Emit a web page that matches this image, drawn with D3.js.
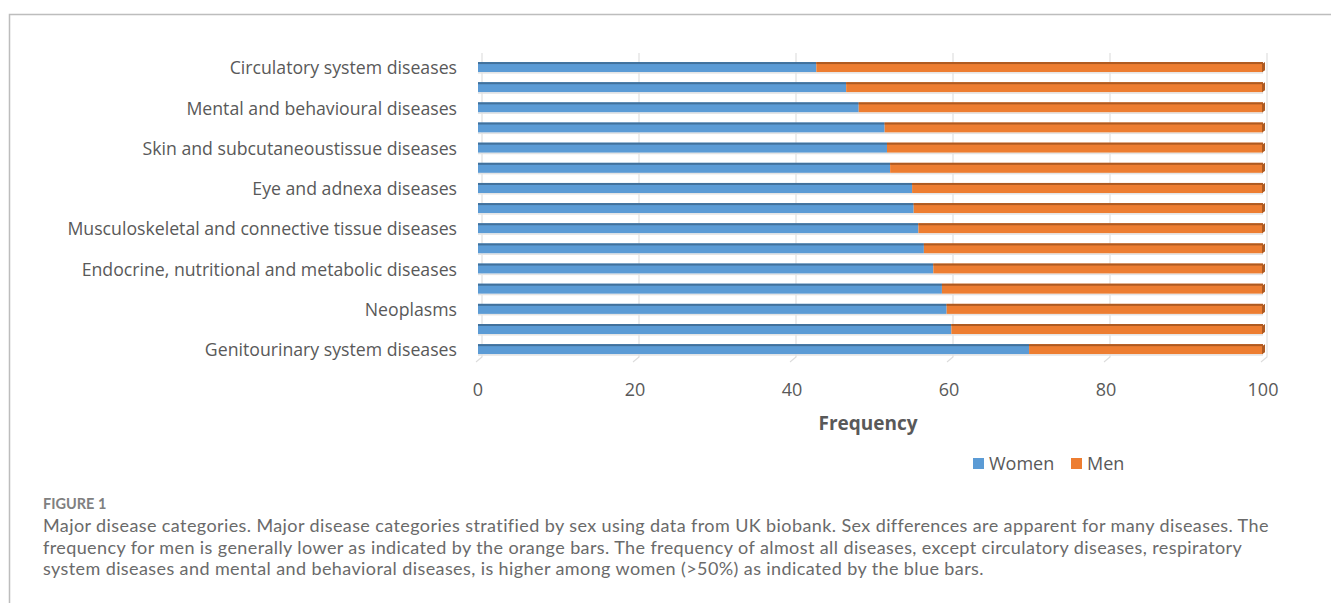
<!DOCTYPE html>
<html>
<head>
<meta charset="utf-8">
<script src="https://cdn.jsdelivr.net/npm/d3@7"></script>
<style>
  html, body { margin: 0; padding: 0; background: #fff; }
  svg { display: block; }
</style>
</head>
<body>
<svg id="chart" width="1331" height="603"></svg>
<script>
// categories listed top to bottom; only every other one gets a label in the original
const categories = [
    "Circulatory system diseases",
    "Respiratory system diseases",
    "Mental and behavioural diseases",
    "Nervous system diseases",
    "Skin and subcutaneoustissue diseases",
    "Digestive system diseases",
    "Eye and adnexa diseases",
    "Ear and mastoid process diseases",
    "Musculoskeletal and connective tissue diseases",
    "Blood and immune mechanism diseases",
    "Endocrine, nutritional and metabolic diseases",
    "Infectious and parasitic diseases",
    "Neoplasms",
    "Congenital malformations",
    "Genitourinary system diseases"
];
const women = [43.1, 46.9, 48.5, 51.8, 52.1, 52.5, 55.3, 55.5, 56.1, 56.8, 58.0, 59.1, 59.7, 60.3, 70.2];
const men   = [56.9, 53.1, 51.5, 48.2, 47.9, 47.5, 44.7, 44.5, 43.9, 43.2, 42.0, 40.9, 40.3, 39.7, 29.8];
const xTicks = [0, 20, 40, 60, 80, 100];
const seriesNames = ["Women", "Men"];

const captionHead = "FIGURE 1";
const captionLines = [
    "Major disease categories. Major disease categories stratified by sex using data from UK biobank. Sex differences are apparent for many diseases. The",
    "frequency for men is generally lower as indicated by the orange bars. The frequency of almost all diseases, except circulatory diseases, respiratory",
    "system diseases and mental and behavioral diseases, is higher among women (>50%) as indicated by the blue bars."
];

const colors = {Women: "#5b9bd5", Men: "#ed7d31"};
const darker = {Women: "#41719c", Men: "#ae5a21"};
const textColor = "#595959";
const font = "'Open Sans', sans-serif";

const svg = d3.select("#chart");

// frame around the figure
svg.append("path")
    .attr("d", "M9.5,603 V14.5 H1331")
    .attr("fill", "none")
    .attr("stroke", "#bdbdbd")
    .attr("stroke-width", 1.5);

const rows = categories.map((c, i) => ({cat: c, Women: women[i], Men: men[i]}));
const stacked = d3.stack().keys(seriesNames)(rows);

const x = d3.scaleLinear().domain([0, 100]).range([478, 1263]);
const y = d3.scaleBand().domain(categories)
    .range([52, 364.3])
    .paddingInner(0.5)
    .paddingOuter(0.5);

// back wall gridlines with a small slanted floor tick
const grid = svg.append("g");
xTicks.forEach(t => {
    grid.append("path")
        .attr("d", `M${x(t) + 4},53 V357 L${x(t) - 2},362`)
        .attr("fill", "none")
        .attr("stroke", "#dcdcdc")
        .attr("stroke-width", 1.1);
});

// bars
const bw = y.bandwidth();
const layers = svg.append("g").selectAll("g")
    .data(stacked)
    .join("g");

layers.selectAll("rect.face")
    .data(d => d.map(p => ({key: d.key, p: p})))
    .join("rect")
    .attr("class", "face")
    .attr("x", d => x(d.p[0]))
    .attr("y", d => y(d.p.data.cat))
    .attr("width", d => x(d.p[1]) - x(d.p[0]))
    .attr("height", bw)
    .attr("fill", d => colors[d.key]);

layers.selectAll("rect.top")
    .data(d => d.map(p => ({key: d.key, p: p})))
    .join("rect")
    .attr("class", "top")
    .attr("x", d => x(d.p[0]))
    .attr("y", d => y(d.p.data.cat))
    .attr("width", d => x(d.p[1]) - x(d.p[0]))
    .attr("height", 2)
    .attr("fill", d => darker[d.key]);

// faint shadow under each bar and dark right end cap
svg.append("g").selectAll("rect")
    .data(rows)
    .join("rect")
    .attr("x", x(0))
    .attr("y", d => y(d.cat) + bw)
    .attr("width", x(100) - x(0))
    .attr("height", 1.5)
    .attr("fill", "#e3e3e3");

svg.append("g").selectAll("path")
    .data(rows)
    .join("path")
    .attr("d", d => {
        const y0 = y(d.cat);
        return `M${x(100) - 1},${y0 + 2} L${x(100) + 2},${y0} V${y0 + bw - 2} L${x(100) - 1},${y0 + bw} Z`;
    })
    .attr("fill", darker.Men);

// category labels (every other one, as in the original)
svg.append("g").selectAll("text")
    .data(categories.filter((c, i) => i % 2 === 0))
    .join("text")
    .attr("x", 457)
    .attr("y", d => y(d) + bw / 2 + 1)
    .attr("dy", "0.35em")
    .attr("text-anchor", "end")
    .attr("font-family", font)
    .attr("font-size", 17.7)
    .attr("fill", textColor)
    .text(d => d);

// x axis tick labels
svg.append("g").selectAll("text")
    .data(xTicks)
    .join("text")
    .attr("x", d => x(d))
    .attr("y", 390)
    .attr("dy", "0.35em")
    .attr("text-anchor", "middle")
    .attr("font-family", font)
    .attr("font-size", 18)
    .attr("fill", textColor)
    .text(d => d);

svg.append("text")
    .attr("x", 868)
    .attr("y", 423)
    .attr("dy", "0.35em")
    .attr("text-anchor", "middle")
    .attr("font-family", font)
    .attr("font-size", 19)
    .attr("font-weight", "bold")
    .attr("fill", textColor)
    .text("Frequency");

// legend
const legend = svg.append("g");
const legendPos = [{key: "Women", x: 973}, {key: "Men", x: 1071}];
legendPos.forEach(l => {
    legend.append("rect")
        .attr("x", l.x)
        .attr("y", 458)
        .attr("width", 11)
        .attr("height", 11)
        .attr("fill", colors[l.key]);
    legend.append("text")
        .attr("x", l.x + 16)
        .attr("y", 464)
        .attr("dy", "0.35em")
        .attr("font-family", font)
        .attr("font-size", 18)
        .attr("fill", textColor)
        .text(l.key);
});

// caption
svg.append("text")
    .attr("x", 43)
    .attr("y", 509)
    .attr("font-family", "Lato, sans-serif")
    .attr("font-size", 14.5)
    .attr("font-weight", "bold")
    .attr("fill", "#808080")
    .text(captionHead);

svg.append("g").selectAll("text")
    .data(captionLines)
    .join("text")
    .attr("x", 43)
    .attr("y", (d, i) => 532 + i * 21.5)
    .attr("font-family", "Lato, sans-serif")
    .attr("font-size", 18)
    .attr("letter-spacing", 0.4)
    .attr("fill", "#6a6a6a")
    .text(d => d);
</script>
</body>
</html>
